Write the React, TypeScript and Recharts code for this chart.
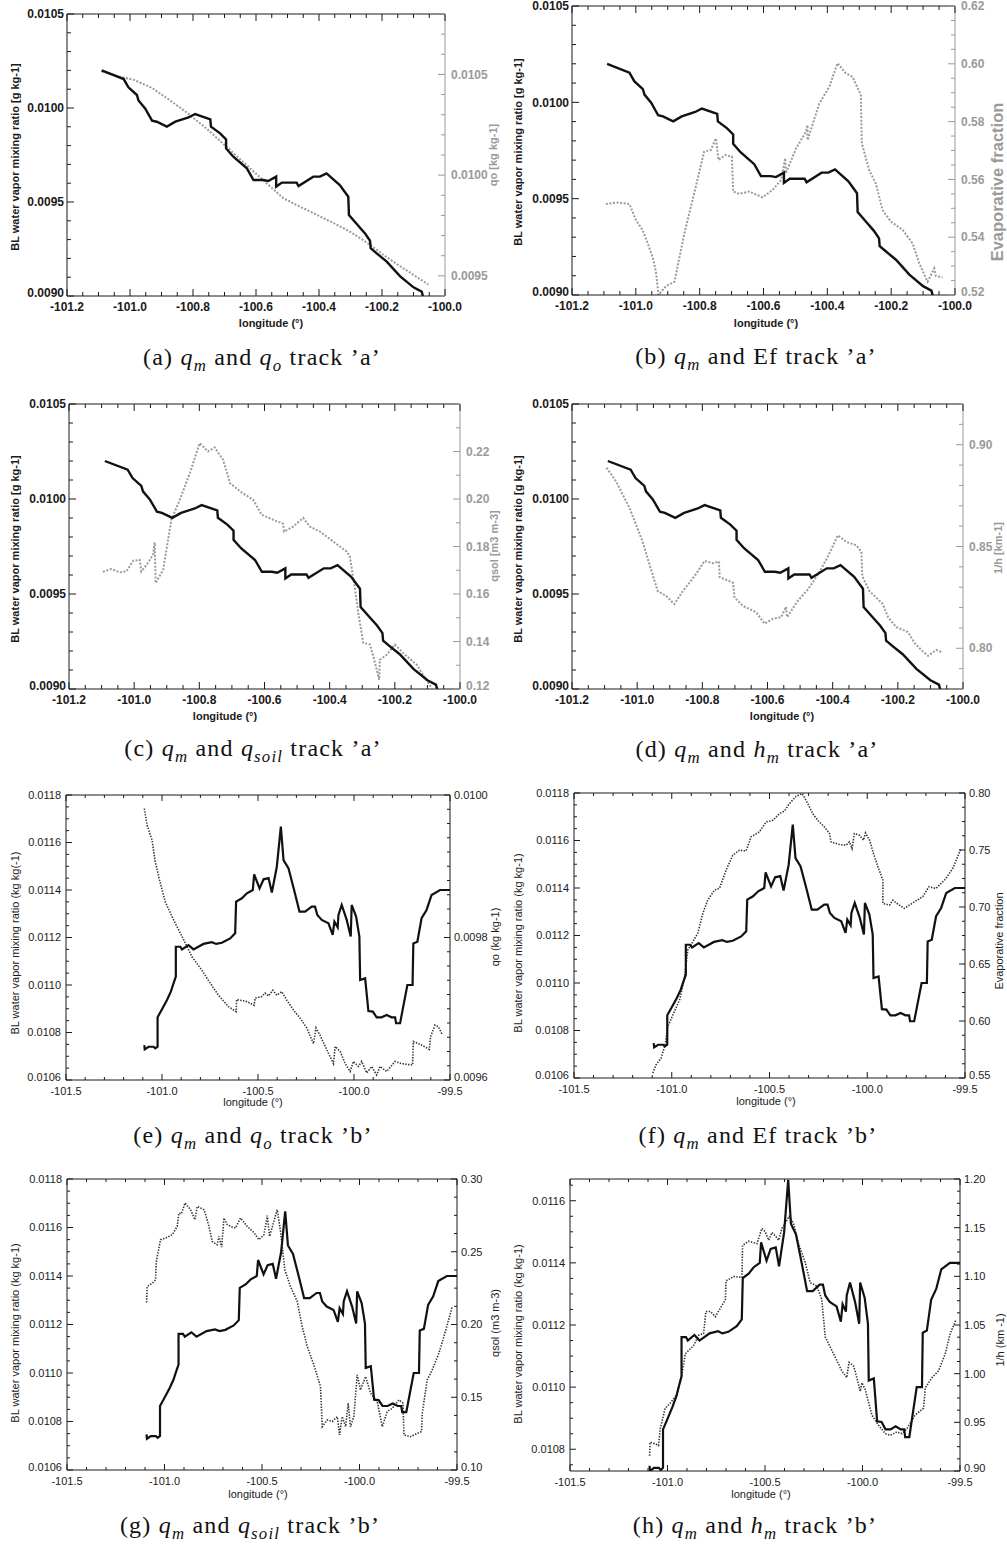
import React from "react";
import { LineChart, Line, XAxis, YAxis } from "recharts";

// ---------- track 'a' ----------
const lonQmA = [-101.09, -101.02, -101.005, -100.978, -100.973, -100.952, -100.93, -100.915, -100.883, -100.856, -100.814, -100.793, -100.745, -100.743, -100.714, -100.695, -100.695, -100.672, -100.629, -100.608, -100.577, -100.561, -100.536, -100.536, -100.518, -100.471, -100.465, -100.418, -100.397, -100.376, -100.334, -100.307, -100.305, -100.28, -100.254, -100.238, -100.236, -100.217, -100.185, -100.143, -100.1, -100.074, -100.07];
const qmA = [0.0102, 0.010154, 0.01011, 0.010069, 0.01004, 0.009998, 0.009933, 0.009927, 0.009901, 0.009927, 0.00995, 0.009968, 0.00994, 0.009901, 0.009865, 0.009833, 0.009785, 0.009741, 0.009679, 0.009617, 0.009617, 0.009612, 0.009635, 0.009582, 0.009603, 0.009603, 0.009585, 0.009635, 0.009635, 0.009652, 0.00959, 0.009528, 0.009431, 0.009383, 0.009333, 0.009294, 0.009254, 0.009227, 0.009183, 0.009106, 0.009046, 0.009023, 0.009];

const lonQoA = [-101.09, -101.03, -100.99, -100.93, -100.872, -100.814, -100.756, -100.693, -100.629, -100.566, -100.513, -100.465, -100.407, -100.354, -100.302, -100.249, -100.196, -100.143, -100.09, -100.053];
const qoA = [0.010515, 0.010488, 0.010474, 0.010433, 0.01037, 0.010304, 0.01023, 0.01014, 0.010049, 0.009959, 0.009885, 0.009847, 0.009803, 0.009762, 0.00972, 0.009666, 0.009605, 0.009548, 0.009495, 0.009457];

const lonEfA = [-101.094, -101.062, -101.02, -101.0, -100.979, -100.963, -100.947, -100.937, -100.929, -100.906, -100.879, -100.848, -100.812, -100.786, -100.765, -100.749, -100.741, -100.72, -100.699, -100.695, -100.676, -100.645, -100.603, -100.572, -100.545, -100.532, -100.53, -100.498, -100.467, -100.462, -100.462, -100.425, -100.394, -100.368, -100.342, -100.321, -100.295, -100.292, -100.269, -100.248, -100.227, -100.201, -100.164, -100.133, -100.112, -100.086, -100.065, -100.06, -100.039];
const efA = [0.5515, 0.552, 0.5515, 0.546, 0.5425, 0.538, 0.533, 0.528, 0.52, 0.523, 0.5246, 0.5413, 0.5575, 0.5696, 0.5702, 0.5742, 0.5667, 0.5684, 0.5679, 0.5558, 0.555, 0.5558, 0.5538, 0.5563, 0.5598, 0.5673, 0.5621, 0.5707, 0.5765, 0.5788, 0.5736, 0.5863, 0.592, 0.6002, 0.5967, 0.5955, 0.5892, 0.5725, 0.5633, 0.5586, 0.5494, 0.5454, 0.5425, 0.5379, 0.531, 0.5246, 0.5292, 0.5266, 0.5261];

const lonQsolA = [-101.096, -101.07, -101.044, -101.024, -101.003, -100.983, -100.978, -100.962, -100.942, -100.937, -100.934, -100.911, -100.886, -100.86, -100.829, -100.799, -100.773, -100.753, -100.727, -100.706, -100.675, -100.635, -100.609, -100.573, -100.543, -100.54, -100.512, -100.481, -100.461, -100.43, -100.389, -100.348, -100.338, -100.322, -100.312, -100.297, -100.276, -100.258, -100.248, -100.246, -100.225, -100.2, -100.174, -100.133, -100.107, -100.087];
const qsolA = [0.1694, 0.1705, 0.1691, 0.1695, 0.174, 0.1744, 0.1695, 0.1723, 0.1765, 0.1817, 0.1646, 0.1702, 0.1912, 0.1997, 0.2109, 0.2235, 0.22, 0.2217, 0.2165, 0.2067, 0.2032, 0.1997, 0.1934, 0.1912, 0.1896, 0.1863, 0.1884, 0.192, 0.1884, 0.1863, 0.1821, 0.1779, 0.1758, 0.1618, 0.152, 0.1394, 0.1387, 0.1295, 0.1239, 0.1323, 0.1344, 0.1387, 0.1351, 0.1302, 0.1246, 0.1204];

const lonInvHA = [-101.094, -101.065, -101.024, -100.983, -100.968, -100.937, -100.911, -100.886, -100.86, -100.824, -100.793, -100.768, -100.749, -100.747, -100.706, -100.701, -100.676, -100.635, -100.609, -100.584, -100.558, -100.543, -100.54, -100.507, -100.476, -100.445, -100.415, -100.384, -100.358, -100.327, -100.312, -100.309, -100.287, -100.246, -100.23, -100.205, -100.169, -100.148, -100.123, -100.107, -100.082, -100.066];
const invHA = [0.8887, 0.882, 0.8691, 0.8523, 0.8442, 0.8281, 0.8257, 0.8217, 0.8281, 0.8354, 0.8429, 0.8418, 0.8426, 0.835, 0.8322, 0.8249, 0.8209, 0.8177, 0.8121, 0.8145, 0.8153, 0.8204, 0.8153, 0.8233, 0.8289, 0.8362, 0.845, 0.8555, 0.8522, 0.8506, 0.8474, 0.8354, 0.8281, 0.8217, 0.8153, 0.8104, 0.808, 0.8024, 0.7984, 0.7963, 0.7992, 0.7981];

// ---------- track 'b' ----------
const lonQmB = [-101.092, -101.09, -101.07, -101.044, -101.035, -101.023, -101.023, -101.0, -100.974, -100.954, -100.94, -100.928, -100.928, -100.905, -100.896, -100.862, -100.836, -100.784, -100.741, -100.718, -100.688, -100.645, -100.619, -100.614, -100.584, -100.558, -100.527, -100.52, -100.492, -100.471, -100.445, -100.428, -100.402, -100.381, -100.367, -100.341, -100.312, -100.284, -100.255, -100.22, -100.203, -100.191, -100.168, -100.133, -100.111, -100.102, -100.085, -100.081, -100.064, -100.038, -100.017, -100.012, -99.989, -99.972, -99.968, -99.942, -99.925, -99.902, -99.882, -99.856, -99.83, -99.804, -99.786, -99.781, -99.76, -99.722, -99.695, -99.691, -99.67, -99.648, -99.622, -99.596, -99.552, -99.5];
const qmB = [0.010747, 0.010729, 0.01074, 0.01074, 0.010733, 0.01074, 0.010864, 0.010898, 0.010937, 0.010972, 0.011007, 0.011035, 0.011161, 0.011161, 0.01115, 0.011168, 0.01115, 0.011173, 0.01118, 0.011173, 0.011178, 0.011196, 0.011218, 0.011351, 0.011365, 0.011386, 0.0114, 0.011466, 0.011407, 0.011445, 0.01145, 0.011389, 0.011498, 0.011667, 0.011526, 0.011491, 0.0114, 0.011309, 0.011309, 0.01133, 0.01133, 0.011295, 0.011274, 0.01126, 0.011211, 0.011267, 0.011243, 0.011295, 0.011337, 0.011274, 0.011204, 0.011337, 0.011288, 0.011204, 0.011021, 0.011028, 0.01089, 0.010888, 0.010864, 0.010864, 0.010874, 0.010864, 0.010864, 0.010839, 0.010839, 0.011, 0.011, 0.011175, 0.011182, 0.011281, 0.011316, 0.011379, 0.0114, 0.0114];

const lonQoB = [-101.092, -101.078, -101.052, -101.035, -101.013, -100.983, -100.94, -100.891, -100.844, -100.792, -100.749, -100.706, -100.654, -100.614, -100.611, -100.558, -100.52, -100.515, -100.48, -100.463, -100.445, -100.423, -100.402, -100.376, -100.35, -100.315, -100.281, -100.246, -100.211, -100.198, -100.177, -100.15, -100.107, -100.098, -100.072, -100.046, -100.02, -100.003, -99.977, -99.96, -99.934, -99.908, -99.882, -99.864, -99.83, -99.786, -99.752, -99.695, -99.691, -99.648, -99.608, -99.601, -99.578, -99.561, -99.539];
const qoB = [0.009981, 0.009958, 0.009937, 0.009906, 0.009881, 0.00985, 0.009825, 0.009799, 0.009773, 0.009754, 0.009736, 0.009719, 0.009703, 0.009696, 0.009713, 0.00971, 0.009705, 0.009715, 0.009717, 0.009722, 0.009718, 0.009726, 0.009719, 0.009724, 0.009712, 0.009698, 0.009687, 0.009673, 0.009651, 0.009673, 0.009663, 0.009647, 0.009623, 0.009647, 0.00964, 0.009623, 0.009612, 0.009626, 0.009619, 0.009626, 0.00961, 0.009619, 0.009607, 0.009619, 0.009612, 0.009626, 0.009623, 0.009621, 0.009654, 0.009649, 0.009643, 0.009661, 0.009677, 0.009675, 0.009663];

const lonEfB = [-101.097, -101.08, -101.054, -101.032, -101.02, -100.994, -100.96, -100.935, -100.918, -100.892, -100.867, -100.841, -100.816, -100.781, -100.756, -100.722, -100.688, -100.654, -100.62, -100.594, -100.552, -100.517, -100.483, -100.449, -100.424, -100.398, -100.364, -100.333, -100.304, -100.279, -100.253, -100.219, -100.193, -100.185, -100.142, -100.108, -100.091, -100.078, -100.066, -100.04, -100.019, -100.009, -99.988, -99.971, -99.945, -99.92, -99.92, -99.886, -99.869, -99.844, -99.81, -99.784, -99.75, -99.716, -99.685, -99.648, -99.597, -99.563, -99.52];
const efB = [0.5544, 0.5617, 0.5675, 0.5806, 0.5952, 0.6054, 0.6185, 0.6375, 0.6623, 0.6696, 0.6769, 0.6944, 0.7061, 0.7148, 0.7163, 0.7323, 0.7454, 0.7498, 0.7492, 0.7615, 0.7659, 0.7746, 0.776, 0.7819, 0.7842, 0.7907, 0.7971, 0.7995, 0.7907, 0.7819, 0.776, 0.7702, 0.7644, 0.7571, 0.7548, 0.7542, 0.7571, 0.7513, 0.7644, 0.7629, 0.7586, 0.765, 0.7586, 0.7484, 0.7352, 0.7236, 0.7031, 0.7017, 0.706, 0.7026, 0.6988, 0.7017, 0.7055, 0.709, 0.7177, 0.7163, 0.725, 0.7338, 0.7513];

const lonQsolB = [-101.092, -101.089, -101.063, -101.046, -101.042, -101.02, -100.995, -100.96, -100.935, -100.926, -100.913, -100.895, -100.866, -100.844, -100.832, -100.798, -100.789, -100.772, -100.755, -100.73, -100.721, -100.707, -100.695, -100.678, -100.661, -100.636, -100.61, -100.576, -100.542, -100.516, -100.49, -100.473, -100.461, -100.439, -100.422, -100.405, -100.383, -100.354, -100.319, -100.294, -100.268, -100.234, -100.2, -100.191, -100.165, -100.14, -100.114, -100.102, -100.089, -100.071, -100.058, -100.046, -100.029, -100.012, -99.995, -99.969, -99.943, -99.909, -99.883, -99.858, -99.832, -99.798, -99.777, -99.772, -99.738, -99.704, -99.682, -99.678, -99.653, -99.627, -99.593, -99.567, -99.524];
const qsolB = [0.2151, 0.2261, 0.2284, 0.2307, 0.2433, 0.2583, 0.2594, 0.2617, 0.2674, 0.2766, 0.2761, 0.2835, 0.2789, 0.272, 0.2812, 0.2789, 0.2755, 0.2674, 0.2571, 0.2548, 0.2606, 0.2532, 0.2732, 0.2686, 0.2674, 0.2663, 0.2732, 0.2674, 0.2633, 0.2583, 0.2617, 0.2748, 0.2606, 0.2709, 0.2789, 0.264, 0.2376, 0.2261, 0.2158, 0.1986, 0.1849, 0.1722, 0.1573, 0.1298, 0.1344, 0.1333, 0.1367, 0.1241, 0.1367, 0.1298, 0.1459, 0.1298, 0.1367, 0.1654, 0.155, 0.1642, 0.1528, 0.147, 0.1298, 0.1401, 0.1424, 0.1482, 0.1459, 0.1241, 0.1229, 0.1252, 0.1264, 0.139, 0.1619, 0.1688, 0.1803, 0.1917, 0.2124];

const lonInvHB = [-101.092, -101.089, -101.063, -101.046, -101.037, -101.012, -100.986, -100.952, -100.926, -100.909, -100.892, -100.866, -100.84, -100.815, -100.803, -100.78, -100.755, -100.734, -100.703, -100.7, -100.66, -100.618, -100.615, -100.584, -100.541, -100.516, -100.499, -100.481, -100.464, -100.447, -100.43, -100.413, -100.396, -100.376, -100.354, -100.328, -100.294, -100.268, -100.234, -100.209, -100.191, -100.157, -100.14, -100.106, -100.081, -100.069, -100.046, -100.029, -100.012, -100.003, -99.986, -99.952, -99.918, -99.883, -99.858, -99.824, -99.798, -99.772, -99.73, -99.687, -99.678, -99.644, -99.61, -99.576, -99.55, -99.521];
const invHB = [0.9157, 0.9296, 0.9279, 0.9262, 0.9436, 0.9645, 0.9697, 0.9785, 0.9994, 1.0203, 1.0238, 1.029, 1.0395, 1.0412, 1.0639, 1.0639, 1.0586, 1.0656, 1.0761, 1.0953, 1.0998, 1.0988, 1.1319, 1.1361, 1.1336, 1.1493, 1.1458, 1.1371, 1.1451, 1.1416, 1.1371, 1.1493, 1.1545, 1.1615, 1.1545, 1.1336, 1.1144, 1.0935, 1.09, 1.0761, 1.0377, 1.0238, 1.0168, 1.0029, 0.9959, 1.0116, 1.0081, 0.9959, 0.9819, 0.9907, 0.9837, 0.9575, 0.9471, 0.9384, 0.9366, 0.9401, 0.9384, 0.9436, 0.9575, 0.9645, 0.9854, 0.9959, 1.0029, 1.0203, 1.0412, 1.0552];

// ---------- tick labels ----------
const lonTicksA = [-101.2, -101.0, -100.8, -100.6, -100.4, -100.2, -100.0];
const lonTicksB = [-101.5, -101.0, -100.5, -100.0, -99.5];
const qmTicksA = [0.009, 0.0095, 0.01, 0.0105];
const qmTicksB = [0.0106, 0.0108, 0.011, 0.0112, 0.0114, 0.0116, 0.0118];
const qmTicksBh = [0.0108, 0.011, 0.0112, 0.0114, 0.0116];
const qoTicksA = [0.0095, 0.01, 0.0105];
const efTicksA = [0.52, 0.54, 0.56, 0.58, 0.6, 0.62];
const qsolTicksA = [0.12, 0.14, 0.16, 0.18, 0.2, 0.22];
const invHTicksA = [0.8, 0.85, 0.9];
const qoTicksB = [0.0096, 0.0098, 0.01];
const efTicksB = [0.55, 0.6, 0.65, 0.7, 0.75, 0.8];
const qsolTicksB = [0.1, 0.15, 0.2, 0.25, 0.3];
const invHTicksB = [0.9, 0.95, 1.0, 1.05, 1.1, 1.15, 1.2];

const rows = (lon: number[], val: number[]) => lon.map((x, i) => ({ x, y: val[i] }));

// minor ticks every `step` inside the domain
function withMinor(domain: number[], step: number) {
  const out: number[] = [];
  const k0 = Math.ceil(domain[0] / step - 1e-6);
  const k1 = Math.floor(domain[1] / step + 1e-6);
  for (let k = k0; k <= k1; k++) out.push(+(k * step).toPrecision(10));
  return out;
}

const LOOK_A = {
  font: "'Liberation Sans', Arial, Helvetica, sans-serif",
  weight: 700, size: 12, titleSize: 11,
  major: 7, minor: 4,
  box: "#1a1a1a", right: "#9a9a9a",
  qmWidth: 2.4, other: "#9a9a9a", otherWidth: 2, dash: "2 1.6",
  xGap: 15, lGap: 3, rGap: 6,
};
const LOOK_B = {
  font: "'Liberation Sans', Arial, Helvetica, sans-serif",
  weight: 400, size: 11, titleSize: 11,
  major: 6, minor: 3,
  box: "#1a1a1a", right: "#1a1a1a",
  qmWidth: 2.2, other: "#333333", otherWidth: 1.6, dash: "1.4 1.4",
  xGap: 15, lGap: 5, rGap: 4,
};
type Look = typeof LOOK_A;

// inward ticks; the lowest label of a y axis sits a little above the corner
function tickFn(side: string, labels: number[], digits: number, step: number, look: Look, color: string, lowest = NaN) {
  return (p: any) => {
    const { x, y, payload } = p;
    const v = Number(payload.value);
    const major = labels.some((m) => Math.abs(m - v) < step * 1e-3);
    const len = major ? look.major : look.minor;
    const txt = major ? v.toFixed(digits) : "";
    const lift = Math.abs(v - lowest) < step * 1e-3 ? -3 : 0;
    const ts = { fontFamily: look.font, fontWeight: look.weight, fontSize: look.size, fill: color };
    if (side === "bottom")
      return (
        <g>
          <line x1={x} y1={y} x2={x} y2={y - len} stroke={color} />
          {txt && <text x={x} y={y + look.xGap} textAnchor="middle" {...ts}>{txt}</text>}
        </g>
      );
    if (side === "top") return <line x1={x} y1={y} x2={x} y2={y + len} stroke={color} />;
    if (side === "left")
      return (
        <g>
          <line x1={x} y1={y} x2={x + len} y2={y} stroke={color} />
          {txt && <text x={x - look.lGap} y={y + lift} dy="0.35em" textAnchor="end" {...ts}>{txt}</text>}
        </g>
      );
    return (
      <g>
        <line x1={x} y1={y} x2={x - len} y2={y} stroke={color} />
        {txt && <text x={x + look.rGap} y={y + lift} dy="0.35em" textAnchor="start" {...ts}>{txt}</text>}
      </g>
    );
  };
}

type PanelProps = {
  box: number[];
  look: Look;
  xDomain: number[]; xLabels: number[]; xMinor: number;
  lDomain: number[]; lLabels: number[]; lMinor: number;
  rDomain: number[]; rLabels: number[]; rMinor: number; rDigits: number;
  qm: { x: number; y: number }[];
  other: { x: number; y: number }[];
  xTitle: string; xAt: number[];
  lTitle: string; lAt: number[];
  rTitle: string; rAt: number[]; rSize?: number;
};

function Title({ text, at, look, color, rotate, size }: any) {
  return (
    <div
      style={{
        position: "absolute", left: at[0], top: at[1], whiteSpace: "nowrap",
        transform: `translate(-50%, -50%)${rotate ? " rotate(-90deg)" : ""}`,
        fontFamily: look.font, fontWeight: look.weight, fontSize: size || look.titleSize, color, lineHeight: 1,
      }}
    >
      {text}
    </div>
  );
}

function Panel(p: PanelProps) {
  const [L, T, R, B] = p.box;
  const look = p.look;
  const top = 10;
  const w = R - L + 140;
  const h = B - T + top + 40;
  const xTicks = withMinor(p.xDomain, p.xMinor);
  const lTicks = withMinor(p.lDomain, p.lMinor);
  const rTicks = withMinor(p.rDomain, p.rMinor);
  return (
    <>
      <div style={{ position: "absolute", left: L - 70, top: T - top }}>
        <LineChart width={w} height={h} margin={{ top: top - 1, right: 0, bottom: 0, left: 0 }}>
          <XAxis xAxisId="b" dataKey="x" type="number" domain={p.xDomain} ticks={xTicks} interval={0} allowDataOverflow
            height={40} tickSize={0} tickMargin={0} tickLine={false} axisLine={{ stroke: look.box }}
            tick={tickFn("bottom", p.xLabels, 1, p.xMinor, look, look.box)} />
          <XAxis xAxisId="t" orientation="top" dataKey="x" type="number" domain={p.xDomain} ticks={xTicks} interval={0} allowDataOverflow
            height={1} tickSize={0} tickMargin={0} tickLine={false} axisLine={{ stroke: look.box }}
            tick={tickFn("top", p.xLabels, 1, p.xMinor, look, look.box)} />
          <YAxis yAxisId="l" type="number" domain={p.lDomain} ticks={lTicks} interval={0} allowDataOverflow
            width={70} tickSize={0} tickMargin={0} tickLine={false} axisLine={{ stroke: look.box }}
            tick={tickFn("left", p.lLabels, 4, p.lMinor, look, look.box, p.lDomain[0])} />
          <YAxis yAxisId="r" orientation="right" type="number" domain={p.rDomain} ticks={rTicks} interval={0} allowDataOverflow
            width={70} tickSize={0} tickMargin={0} tickLine={false} axisLine={{ stroke: look.right }}
            tick={tickFn("right", p.rLabels, p.rDigits, p.rMinor, look, look.right, p.rDomain[0])} />
          <Line xAxisId="b" yAxisId="r" data={p.other} dataKey="y" type="linear" dot={false} activeDot={false}
            stroke={look.other} strokeWidth={look.otherWidth} strokeDasharray={look.dash} isAnimationActive={false} />
          <Line xAxisId="b" yAxisId="l" data={p.qm} dataKey="y" type="linear" dot={false} activeDot={false}
            stroke="#111111" strokeWidth={look.qmWidth} isAnimationActive={false} />
        </LineChart>
      </div>
      <Title text={p.xTitle} at={p.xAt} look={look} color={look.box} />
      <Title text={p.lTitle} at={p.lAt} look={look} color={look.box} rotate />
      <Title text={p.rTitle} at={p.rAt} look={look} color={look.right} rotate size={p.rSize} />
    </>
  );
}

function Caption({ at, children }: any) {
  return (
    <div
      style={{
        position: "absolute", left: at[0], top: at[1], transform: "translate(-50%, -50%)",
        whiteSpace: "nowrap", fontFamily: "'Liberation Serif', 'DejaVu Serif', serif", fontSize: 24,
        letterSpacing: 1.2, color: "#111", lineHeight: 1,
      }}
    >
      {children}
    </div>
  );
}
const Q = ({ s }: { s: string }) => (
  <span><i>q</i><sub style={{ fontSize: "0.7em" }}><i>{s}</i></sub></span>
);

const xA = { xDomain: [-101.2, -100.0], xLabels: lonTicksA, xMinor: 0.05, lDomain: [0.009, 0.0105], lLabels: qmTicksA, lMinor: 0.0001 };
const xB = { xDomain: [-101.5, -99.5], xLabels: lonTicksB, xMinor: 0.1, lDomain: [0.0106, 0.0118], lLabels: qmTicksB, lMinor: 0.00005 };
const lTitleA = "BL water vapor mixing ratio [g kg-1]";
const lTitleB = "BL water vapor mixing ratio (kg kg-1)";

export default function App() {
  const qmRowsA = rows(lonQmA, qmA);
  const qmRowsB = rows(lonQmB, qmB);
  return (
    <div style={{ position: "absolute", left: 0, top: 0, width: 1007, height: 1544, background: "#fff", overflow: "hidden" }}>
      <Panel box={[67, 14, 445, 296]} look={LOOK_A} {...xA}
        rDomain={[0.0094, 0.0108]} rLabels={qoTicksA} rMinor={0.0001} rDigits={4}
        qm={qmRowsA} other={rows(lonQoA, qoA)}
        xTitle="longitude (°)" xAt={[271, 323]} lTitle={lTitleA} lAt={[15, 157]} rTitle="qo [kg kg-1]" rAt={[493, 155]} />
      <Panel box={[572, 6, 955, 295]} look={LOOK_A} {...xA}
        rDomain={[0.52, 0.62]} rLabels={efTicksA} rMinor={0.005} rDigits={2}
        qm={qmRowsA} other={rows(lonEfA, efA)}
        xTitle="longitude (°)" xAt={[766, 323]} lTitle={lTitleA} lAt={[518, 152]} rTitle="Evaporative fraction" rAt={[997, 182]} rSize={16.5} />
      <Panel box={[69, 404, 460, 689]} look={LOOK_A} {...xA}
        rDomain={[0.12, 0.24]} rLabels={qsolTicksA} rMinor={0.01} rDigits={2}
        qm={qmRowsA} other={rows(lonQsolA, qsolA)}
        xTitle="longitude (°)" xAt={[225, 716]} lTitle={lTitleA} lAt={[15, 549]} rTitle="qsol [m3 m-3]" rAt={[494, 546]} />
      <Panel box={[572, 404, 963, 689]} look={LOOK_A} {...xA}
        rDomain={[0.78, 0.92]} rLabels={invHTicksA} rMinor={0.01} rDigits={2}
        qm={qmRowsA} other={rows(lonInvHA, invHA)}
        xTitle="longitude (°)" xAt={[782, 716]} lTitle={lTitleA} lAt={[518, 549]} rTitle="1/h [km-1]" rAt={[998, 548]} />

      <Panel box={[66, 795, 450, 1080]} look={LOOK_B} {...xB}
        rDomain={[0.0096, 0.01]} rLabels={qoTicksB} rMinor={0.00002} rDigits={4}
        qm={qmRowsB} other={rows(lonQoB, qoB)}
        xTitle="longitude (°)" xAt={[253, 1102]} lTitle="BL water vapor mixing ratio (kg kg(-1)" lAt={[15, 943]} rTitle="qo (kg kg-1)" rAt={[495, 937]} />
      <Panel box={[574, 793, 965, 1078]} look={LOOK_B} {...xB}
        rDomain={[0.55, 0.8]} rLabels={efTicksB} rMinor={0.0125} rDigits={2}
        qm={qmRowsB} other={rows(lonEfB, efB)}
        xTitle="longitude (°)" xAt={[766, 1101]} lTitle={lTitleB} lAt={[518, 943]} rTitle="Evaporative fraction" rAt={[999, 941]} />
      <Panel box={[67, 1179, 457, 1470]} look={LOOK_B} {...xB}
        rDomain={[0.1, 0.3]} rLabels={qsolTicksB} rMinor={0.0125} rDigits={2}
        qm={qmRowsB} other={rows(lonQsolB, qsolB)}
        xTitle="longitude (°)" xAt={[258, 1494]} lTitle={lTitleB} lAt={[15, 1333]} rTitle="qsol (m3 m-3)" rAt={[495, 1323]} />
      <Panel box={[570, 1179, 960, 1471]} look={LOOK_B} {...xB}
        lDomain={[0.01073, 0.01167]} lLabels={qmTicksBh}
        rDomain={[0.9, 1.2]} rLabels={invHTicksB} rMinor={0.0125} rDigits={2}
        qm={qmRowsB} other={rows(lonInvHB, invHB)}
        xTitle="longitude (°)" xAt={[761, 1494]} lTitle={lTitleB} lAt={[518, 1334]} rTitle="1/h (km -1)" rAt={[1000, 1340]} />

      <Caption at={[262, 360]}>(a) <Q s="m" /> and <Q s="o" /> track ’a’</Caption>
      <Caption at={[756, 359]}>(b) <Q s="m" /> and Ef track ’a’</Caption>
      <Caption at={[253, 751]}>(c) <Q s="m" /> and <Q s="soil" /> track ’a’</Caption>
      <Caption at={[757, 752]}>(d) <Q s="m" /> and <i>h</i><sub style={{ fontSize: "0.7em" }}><i>m</i></sub> track ’a’</Caption>
      <Caption at={[253, 1138]}>(e) <Q s="m" /> and <Q s="o" /> track ’b’</Caption>
      <Caption at={[758, 1138]}>(f) <Q s="m" /> and Ef track ’b’</Caption>
      <Caption at={[250, 1528]}>(g) <Q s="m" /> and <Q s="soil" /> track ’b’</Caption>
      <Caption at={[755, 1528]}>(h) <Q s="m" /> and <i>h</i><sub style={{ fontSize: "0.7em" }}><i>m</i></sub> track ’b’</Caption>
    </div>
  );
}
